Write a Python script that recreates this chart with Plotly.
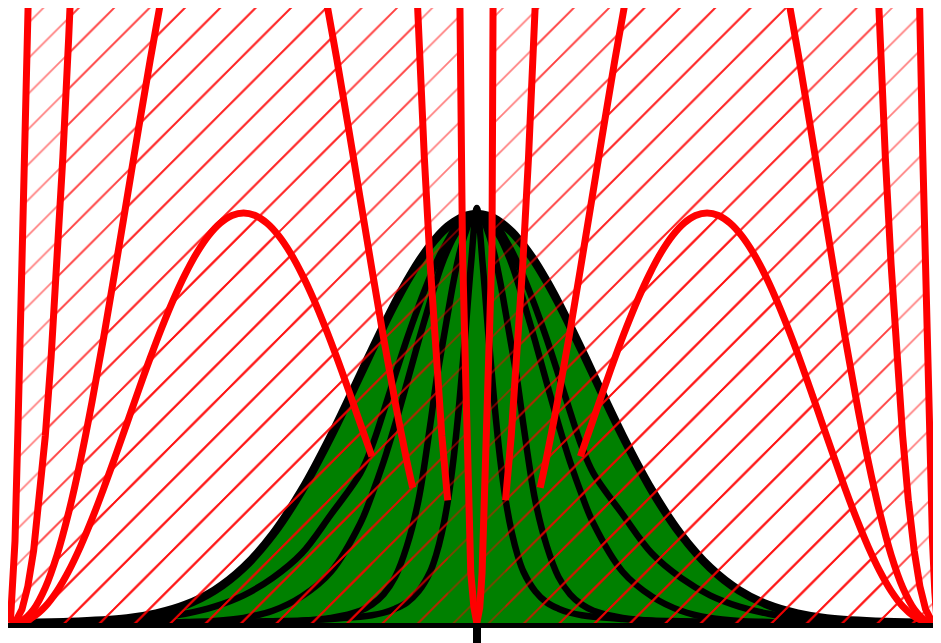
import plotly.graph_objects as go

# ---------------- black (green-filled) curves: half profiles, mirrored about 0
B_ABS_X = [0, 0.05, 0.1, 0.15, 0.2, 0.25, 0.3, 0.35, 0.4, 0.5, 0.6, 0.7, 0.8, 0.9,
           1.0, 1.25, 1.5, 1.75, 2.0, 2.25, 2.5, 2.75, 3.0, 3.5, 4.0]
BLACK_OUTER = [0.399, 0.3984, 0.397, 0.3945, 0.391, 0.3867, 0.3814, 0.3752, 0.3683, 0.3521,
               0.3332, 0.3123, 0.2897, 0.2661, 0.242, 0.1826, 0.1295, 0.0863, 0.054, 0.0317,
               0.0175, 0.0091, 0.0044, 0.0009, 0.0001]
BLACK_K2 = [0.399, 0.3975, 0.393, 0.389, 0.383, 0.373, 0.363, 0.351, 0.338, 0.309, 0.277,
            0.242, 0.206, 0.172, 0.146, 0.106, 0.068, 0.044, 0.027, 0.016, 0.009, 0.005,
            0.003, 0.001, 0.0]
BLACK_K3 = [0.399, 0.397, 0.393, 0.385, 0.376, 0.364, 0.35, 0.333, 0.314, 0.275, 0.234,
            0.194, 0.157, 0.125, 0.097, 0.05, 0.026, 0.012, 0.005, 0.002, 0.001, 0.0, 0.0,
            0.0, 0.0]
BLACK_K4 = [0.399, 0.394, 0.38, 0.36, 0.333, 0.301, 0.268, 0.234, 0.193, 0.12, 0.075, 0.045,
            0.028, 0.018, 0.012, 0.005, 0.002, 0.001, 0.0005, 0.0, 0.0, 0.0, 0.0, 0.0, 0.0]
BLACK_K5 = [0.405, 0.35, 0.28, 0.215, 0.16, 0.118, 0.088, 0.066, 0.05, 0.031, 0.02, 0.014,
            0.01, 0.0075, 0.006, 0.004, 0.0025, 0.0018, 0.0012, 0.0009, 0.0007, 0.0005,
            0.0004, 0.0003, 0.0002]
BLACK_CURVES = [BLACK_OUTER, BLACK_K2, BLACK_K3, BLACK_K4, BLACK_K5]
BLACK_WIDTHS = [8.5, 6.5, 6.5, 6.5, 6.5]

# ---------------- red (hatched) curves
LEFT_X = [-4.0, -3.9, -3.8, -3.7, -3.6, -3.5, -3.4, -3.3, -3.2, -3.1, -3.0, -2.9, -2.8,
          -2.7, -2.6, -2.5, -2.4, -2.3, -2.2, -2.1, -2.0, -1.9, -1.8, -1.7, -1.6, -1.5,
          -1.4, -1.3, -1.2, -1.1, -1.0, -0.9, -0.8, -0.7, -0.6, -0.55]
RIGHT_X = [3.948, 3.849, 3.751, 3.652, 3.553, 3.455, 3.356, 3.257, 3.158, 3.06, 2.961,
           2.862, 2.764, 2.665, 2.566, 2.468, 2.369, 2.27, 2.171, 2.073, 1.974, 1.875,
           1.777, 1.678, 1.579, 1.481, 1.382, 1.283, 1.184, 1.086, 0.987, 0.888, 0.79,
           0.691, 0.592, 0.543]
HUMP_Y = [0, 0.0012, 0.0063, 0.0162, 0.0311, 0.0506, 0.0743, 0.1014, 0.1311, 0.1625,
          0.1948, 0.2272, 0.2587, 0.2885, 0.316, 0.3404, 0.3612, 0.3779, 0.3901, 0.3975,
          0.4, 0.3975, 0.3901, 0.3779, 0.3612, 0.3404, 0.316, 0.2885, 0.2587, 0.2272,
          0.1948, 0.1625]
ARCH_Y = [0, 0.0025, 0.0134, 0.0345, 0.0661, 0.1076, 0.1578, 0.2154, 0.2785, 0.3454,
          0.414, 0.4828, 0.5497, 0.6131, 0.6715, 0.7234, 0.7676, 0.803, 0.829, 0.8447,
          0.85, 0.8447, 0.829, 0.803, 0.7676, 0.7234, 0.6715, 0.6131, 0.5497, 0.4828,
          0.414, 0.3454, 0.2785, 0.2154, 0.1578, 0.132]
TALL_LX = [-4.0, -3.95, -3.9, -3.85, -3.8, -3.75, -3.7, -3.65, -3.6, -3.55, -3.5, -3.45,
           -3.4, -2.0, -0.6, -0.55, -0.5, -0.45, -0.4, -0.35, -0.3, -0.25]
TALL_RX = [3.947, 3.898, 3.848, 3.799, 3.75, 3.70, 3.651, 3.602, 3.552, 3.503, 3.454,
           3.404, 3.355, 1.973, 0.591, 0.542, 0.493, 0.443, 0.394, 0.344, 0.295, 0.246]
TALL_Y = [0, 0.0024, 0.0134, 0.0357, 0.0708, 0.1197, 0.1826, 0.2595, 0.35, 0.4537, 0.57,
          0.698, 0.836, 4.5, 0.836, 0.698, 0.57, 0.4537, 0.35, 0.2595, 0.1826, 0.1197]
SPIKE_LX = [-4.0, -3.98, -3.96, -3.935, -3.9, -3.874, -3.848, -3.8, -2.0, -0.2, -0.148,
            -0.123, -0.095, -0.07, -0.052, -0.025, 0.0]
SPIKE_LY = [0, 0.03, 0.08, 0.188, 0.333, 0.46, 0.6, 1.2, 60, 1.2, 0.6, 0.364, 0.237, 0.13,
            0.049, 0.015, 0]
SPIKE_RX = [0.0, 0.025, 0.045, 0.065, 0.087, 0.13, 0.139, 0.19, 1.974, 3.75, 3.797, 3.823,
            3.848, 3.883, 3.907, 3.927, 3.947]
SPIKE_RY = [0, 0.015, 0.049, 0.13, 0.237, 0.364, 0.6, 1.2, 60, 1.2, 0.6, 0.46, 0.333, 0.188,
            0.08, 0.03, 0]

RED_CURVES = [
    (LEFT_X[:32], HUMP_Y, "spline"),
    (RIGHT_X[:32], HUMP_Y, "spline"),
    (LEFT_X, ARCH_Y, "spline"),
    (RIGHT_X, ARCH_Y, "spline"),
    (TALL_LX, TALL_Y, "linear"),
    (TALL_RX, TALL_Y, "linear"),
    (SPIKE_LX, SPIKE_LY, "linear"),
    (SPIKE_RX, SPIKE_RY, "linear"),
]

fig = go.Figure()


def mirror(half_x, half_y):
    xs = [-v for v in half_x[::-1]] + list(half_x[1:])
    ys = list(half_y[::-1]) + list(half_y[1:])
    return xs, ys


# green fills
for ys in BLACK_CURVES:
    xs, yy = mirror(B_ABS_X, ys)
    fig.add_trace(go.Scatter(x=xs, y=yy, mode="lines", fill="tozeroy",
                             fillcolor="#008000", line=dict(width=0, shape="spline"),
                             hoverinfo="skip", showlegend=False))
# black outlines
for ys, w in zip(BLACK_CURVES, BLACK_WIDTHS):
    xs, yy = mirror(B_ABS_X, ys)
    fig.add_trace(go.Scatter(x=xs, y=yy, mode="lines",
                             line=dict(color="black", width=w, shape="spline"),
                             hoverinfo="skip", showlegend=False))
# red hatched fills
for xs, ys, shp in RED_CURVES:
    fig.add_trace(go.Scatter(x=xs, y=ys, mode="lines", fill="tozeroy",
                             fillcolor="rgba(0,0,0,0)",
                             fillpattern=dict(shape="/", fgcolor="red",
                                              bgcolor="rgba(0,0,0,0)",
                                              size=25, solidity=0.07),
                             line=dict(width=0, shape=shp),
                             hoverinfo="skip", showlegend=False))
# red lines
for xs, ys, shp in RED_CURVES:
    fig.add_trace(go.Scatter(x=xs, y=ys, mode="lines",
                             line=dict(color="red", width=7, shape=shp),
                             hoverinfo="skip", showlegend=False))

# the page body adds an 8px offset, so the figure itself starts at (8, 8)
fig.update_layout(
    width=933, height=635,
    margin=dict(l=0, r=0, t=0, b=20),
    paper_bgcolor="white", plot_bgcolor="white",
    xaxis=dict(range=[-4.02, 3.98], showgrid=False, zeroline=False,
               showline=True, linecolor="black", linewidth=5,
               ticks="outside", tickvals=[0], ticklen=15, tickwidth=8,
               tickcolor="black", showticklabels=False),
    yaxis=dict(range=[0, 0.6], visible=False),
)

fig.write_html("out.html")
